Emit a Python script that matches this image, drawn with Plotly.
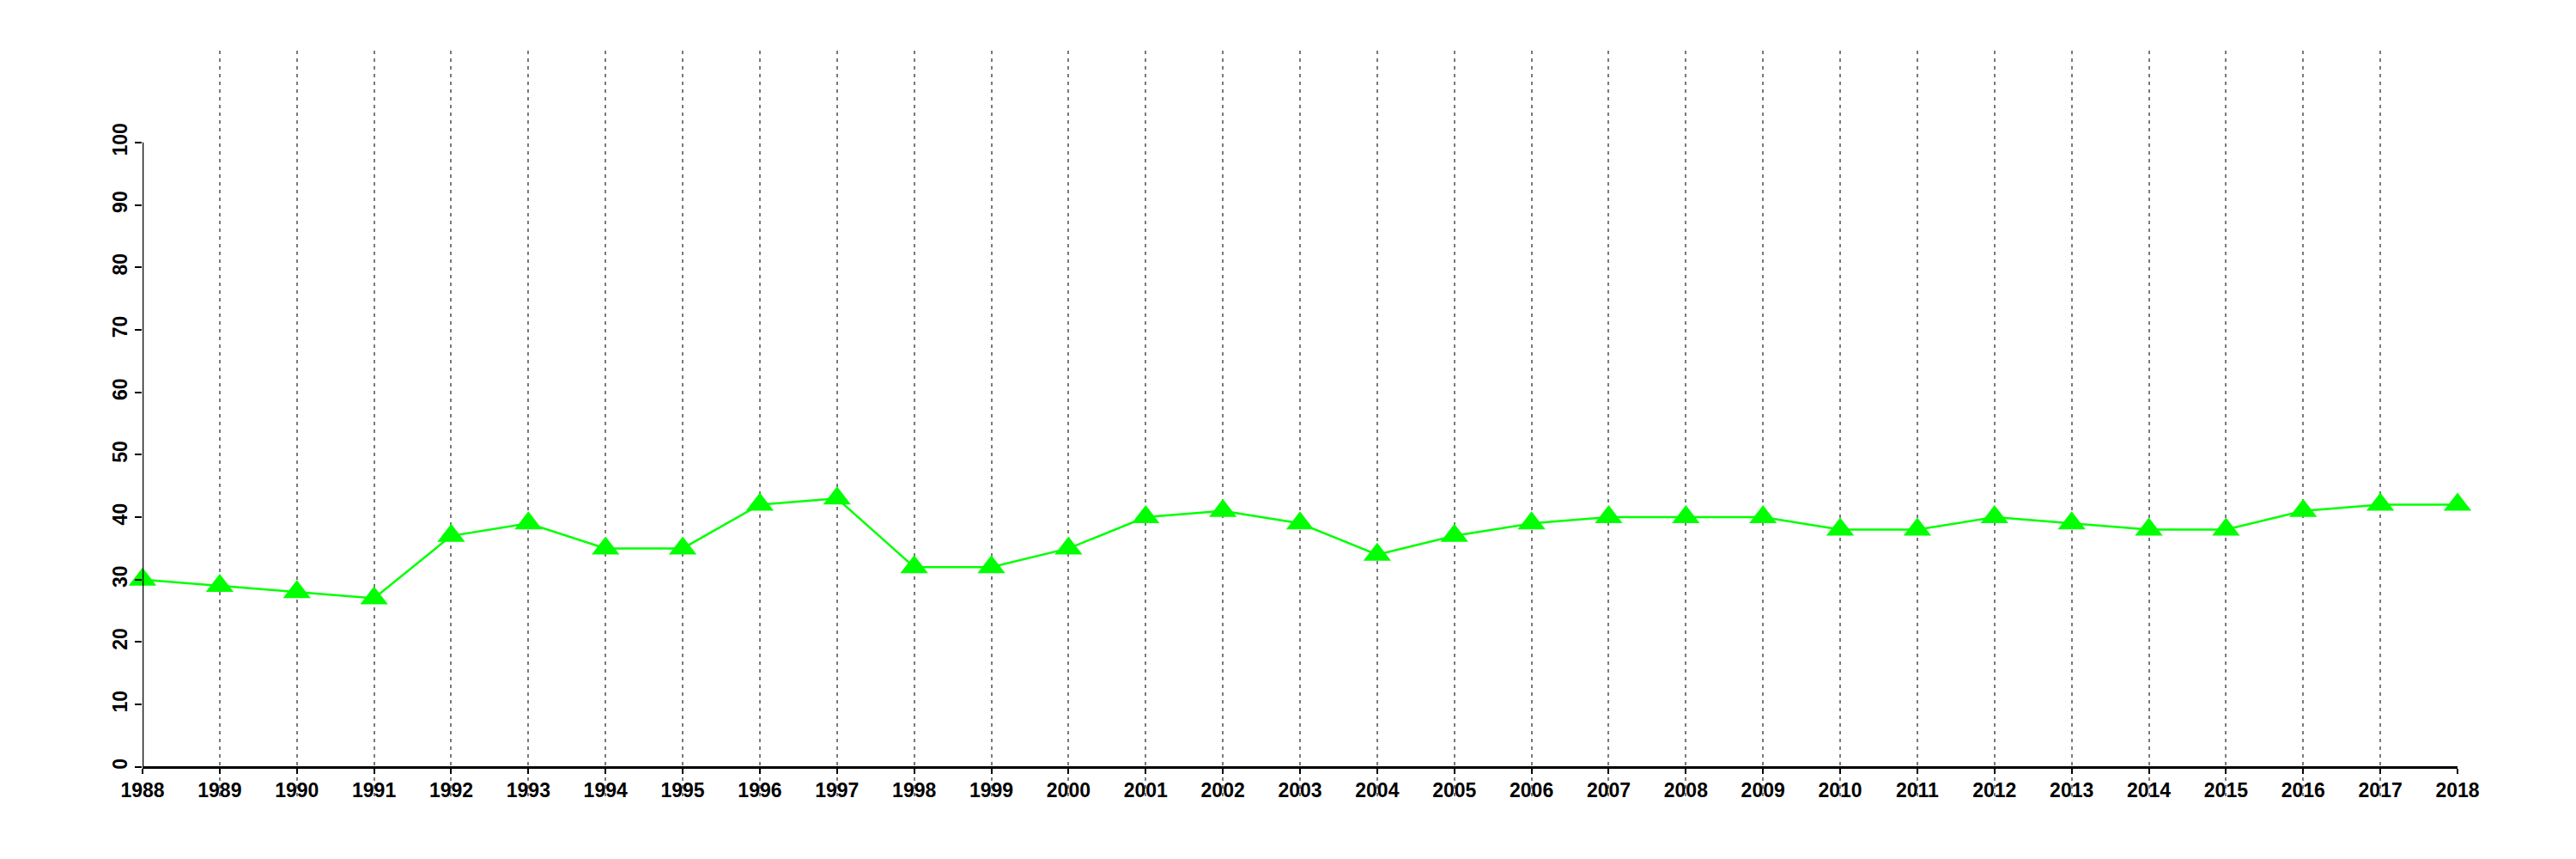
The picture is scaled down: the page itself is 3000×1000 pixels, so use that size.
import plotly.graph_objects as go

years = list(range(1988, 2019))
values = [30, 29, 28, 27, 37, 39, 35, 35, 42, 43, 32, 32, 35, 40, 41, 39, 34, 37, 39, 40,
          40, 40, 38, 38, 40, 39, 38, 38, 41, 42, 42]
y_ticks = [0, 10, 20, 30, 40, 50, 60, 70, 80, 90, 100]

W, H = 3000, 1000
# page body has an 8px margin, so offset the plot area accordingly
ml, mr, mt, mb = 158, 146, 51, 81
y_lo, y_hi = -4.7, 114.7

fig = go.Figure()
fig.add_trace(go.Scatter(
    x=years, y=values, mode="lines+markers",
    line=dict(color="#00FF00", width=2.5),
    marker=dict(symbol="triangle-up", size=28, color="#00FF00"),
    cliponaxis=False, showlegend=False,
))

# y-axis line spanning only the tick range
fig.add_shape(type="line", xref="x", yref="y", x0=years[0], x1=years[0],
              y0=y_ticks[0], y1=y_ticks[-1], line=dict(color="black", width=2.5), layer="above")

zero_pos = (0 - y_lo) / (y_hi - y_lo)

fig.update_layout(
    width=W, height=H, autosize=False,
    margin=dict(l=ml, r=mr, t=mt, b=mb, autoexpand=False),
    paper_bgcolor="white", plot_bgcolor="white",
    font=dict(family="Liberation Sans, Arial, sans-serif", size=23, color="black"),
    xaxis=dict(
        range=[years[0], years[-1]],
        tickvals=years, ticktext=[str(y) for y in years],
        tickfont=dict(size=23, weight="bold"),
        showgrid=True, gridcolor="#7a7a7a", gridwidth=2, griddash="4px,5px",
        showline=True, linecolor="black", linewidth=2.5,
        ticks="outside", ticklen=6, tickwidth=2, tickcolor="black",
        anchor="free", position=zero_pos,
        zeroline=False, automargin=False,
    ),
    yaxis=dict(
        range=[y_lo, y_hi],
        tickvals=y_ticks, ticktext=[str(v) for v in y_ticks],
        tickangle=-90,
        tickfont=dict(size=23, weight="bold"),
        showgrid=False, zeroline=False, showline=False,
        ticks="outside", ticklen=8, tickwidth=2, tickcolor="black",
        automargin=False,
    ),
)

fig.write_html("out.html")
